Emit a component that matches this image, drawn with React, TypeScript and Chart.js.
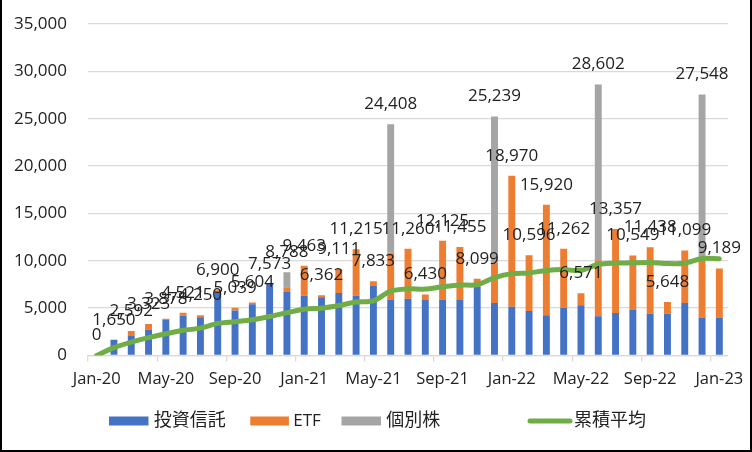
import React, { useEffect, useRef } from 'react';
import { Chart, registerables } from 'chart.js';

Chart.register(...registerables);

const months = [
  'Jan-20', 'Feb-20', 'Mar-20', 'Apr-20', 'May-20', 'Jun-20', 'Jul-20', 'Aug-20', 'Sep-20', 'Oct-20', 'Nov-20', 'Dec-20',
  'Jan-21', 'Feb-21', 'Mar-21', 'Apr-21', 'May-21', 'Jun-21', 'Jul-21', 'Aug-21', 'Sep-21', 'Oct-21', 'Nov-21', 'Dec-21',
  'Jan-22', 'Feb-22', 'Mar-22', 'Apr-22', 'May-22', 'Jun-22', 'Jul-22', 'Aug-22', 'Sep-22', 'Oct-22', 'Nov-22', 'Dec-22',
  'Jan-23',
];

// 投資信託
const investTrust = [
  0, 1650, 2050, 2750, 3800, 4200, 4050, 6700, 4750, 5400, 7573, 6700,
  6300, 6150, 6600, 6300, 7400, 5850, 6000, 5900, 5900, 5850, 7250, 5550,
  5150, 4700, 4250, 5050, 5300, 4150, 4500, 4800, 4400, 4400, 5550, 4000,
  4000,
];

// ETF
const etf = [
  0, 0, 542, 573, 78, 321, 200, 200, 289, 204, 0, 500,
  3163, 212, 2511, 4915, 433, 5000, 5260, 530, 6225, 5605, 849, 4250,
  13820, 5896, 11670, 6212, 1271, 5900, 8857, 5749, 7038, 1248, 5549, 6100,
  5189,
];

// 個別株
const stocks = [
  0, 0, 0, 0, 0, 0, 0, 0, 0, 0, 0, 1588,
  0, 0, 0, 0, 0, 13558, 0, 0, 0, 0, 0, 15439,
  0, 0, 0, 0, 0, 18552, 0, 0, 0, 0, 0, 17448,
  0,
];

// 累積平均
const cumulativeAvg = [
  0, 825, 1414, 1891, 2289, 2661, 2888, 3389, 3573, 3776, 4121, 4510,
  4891, 4996, 5270, 5642, 5771, 6806, 7041, 7010, 7254, 7445, 7473, 8213,
  8644, 8719, 8985, 9067, 8981, 9635, 9755, 9780, 9830, 9707, 9747, 10241,
  10213,
];

const yMin = 0;
const yMax = 35000;
const yStep = 5000;

const FONT = "'Open Sans', 'Noto Sans CJK JP', sans-serif";
const TEXT = '#222222';
const GRID = '#d9d9d9';
const BLUE = '#4472c4';
const ORANGE = '#ed7d31';
const GRAY = '#a5a5a5';
const GREEN = '#70ad47';

const totalLabelsPlugin = {
  id: 'totalLabels',
  afterDatasetsDraw(chart: any) {
    const { ctx } = chart;
    const x = chart.scales.x;
    const y = chart.scales.y;
    ctx.save();
    ctx.font = `17px ${FONT}`;
    ctx.fillStyle = TEXT;
    ctx.textAlign = 'center';
    ctx.textBaseline = 'middle';
    months.forEach((_, i) => {
      const total = investTrust[i] + etf[i] + stocks[i];
      ctx.fillText(total.toLocaleString('en-US'), x.getPixelForValue(i), y.getPixelForValue(total) - 20);
    });
    ctx.restore();
  },
};

const legendPlugin = {
  id: 'customLegend',
  afterDraw(chart: any) {
    const { ctx } = chart;
    const cy = 421;
    const items = [
      { ds: 0, kind: 'box', x: 107, w: 39.5, tx: 151.7, size: 18 },
      { ds: 1, kind: 'box', x: 248.3, w: 38.6, tx: 291.3, size: 17 },
      { ds: 2, kind: 'box', x: 339.5, w: 39.5, tx: 384.3, size: 18 },
      { ds: 3, kind: 'line', x: 526, w: 44, tx: 572, size: 18 },
    ];
    ctx.save();
    items.forEach((it) => {
      const ds = chart.data.datasets[it.ds];
      if (it.kind === 'box') {
        ctx.fillStyle = ds.backgroundColor;
        ctx.fillRect(it.x, cy - 4.5, it.w, 9);
      } else {
        ctx.strokeStyle = ds.borderColor;
        ctx.lineWidth = 5;
        ctx.lineCap = 'round';
        ctx.beginPath();
        ctx.moveTo(it.x + 2, cy);
        ctx.lineTo(it.x + it.w - 2, cy);
        ctx.stroke();
      }
      ctx.fillStyle = TEXT;
      ctx.font = `${it.size}px ${FONT}`;
      ctx.textAlign = 'left';
      ctx.textBaseline = 'middle';
      ctx.fillText(ds.label, it.tx, cy);
    });
    ctx.restore();
  },
};

export default function App() {
  const canvasRef = useRef<HTMLCanvasElement | null>(null);

  useEffect(() => {
    const canvas = canvasRef.current;
    if (!canvas) return;
    const chart = new Chart(canvas, {
      type: 'bar',
      data: {
        labels: months,
        datasets: [
          {
            type: 'bar',
            label: '投資信託',
            data: investTrust,
            backgroundColor: BLUE,
            stack: 'bars',
            order: 1,
            barPercentage: 0.4,
            categoryPercentage: 1.0,
          },
          {
            type: 'bar',
            label: 'ETF',
            data: etf,
            backgroundColor: ORANGE,
            stack: 'bars',
            order: 1,
            barPercentage: 0.4,
            categoryPercentage: 1.0,
          },
          {
            type: 'bar',
            label: '個別株',
            data: stocks,
            backgroundColor: GRAY,
            stack: 'bars',
            order: 1,
            barPercentage: 0.4,
            categoryPercentage: 1.0,
          },
          {
            type: 'line',
            label: '累積平均',
            data: cumulativeAvg,
            borderColor: GREEN,
            backgroundColor: GREEN,
            borderWidth: 5,
            pointRadius: 0,
            tension: 0.3,
            borderCapStyle: 'round',
            borderJoinStyle: 'round',
            stack: 'line',
            order: 0,
          },
        ] as any,
      },
      options: {
        responsive: false,
        animation: false,
        layout: { padding: { top: 24, right: 22, bottom: 55, left: 0 } },
        plugins: {
          legend: { display: false },
          tooltip: { enabled: false },
        },
        scales: {
          x: {
            stacked: true,
            offset: true,
            grid: {
              offset: true,
              drawOnChartArea: false,
              drawTicks: true,
              tickLength: 6,
              lineWidth: 1.3,
              color: (c: any) => (c.index % 4 === 0 ? GRID : 'rgba(0,0,0,0)'),
            },
            border: { display: true, color: GRID, width: 1.3 },
            ticks: {
              autoSkip: false,
              maxRotation: 0,
              minRotation: 0,
              padding: 6,
              color: TEXT,
              font: { size: 16.5, family: FONT, lineHeight: 1.45 },
              callback: (_v: any, i: number) => (i % 4 === 0 ? months[i] : ''),
            },
            afterFit: (s: any) => {
              s.height = 39.5;
            },
          },
          y: {
            stacked: true,
            min: yMin,
            max: yMax,
            ticks: {
              stepSize: yStep,
              padding: 0,
              color: TEXT,
              font: { size: 17, family: FONT },
              callback: (v: any) => Number(v).toLocaleString('en-US'),
            },
            grid: {
              color: GRID,
              lineWidth: 1.3,
              drawTicks: true,
              tickLength: 21,
              tickColor: 'rgba(0,0,0,0)',
            },
            border: { display: false },
            afterFit: (s: any) => {
              s.width = 86;
            },
          },
        } as any,
      },
      plugins: [totalLabelsPlugin, legendPlugin],
    });
    return () => chart.destroy();
  }, []);

  return (
    <div
      style={{
        position: 'fixed',
        left: 0,
        top: 0,
        width: 752,
        height: 452,
        boxSizing: 'border-box',
        borderLeft: '2px solid #000',
        borderRight: '2px solid #000',
        borderBottom: '2px solid #000',
        background: '#fff',
        overflow: 'hidden',
      }}
    >
      <canvas ref={canvasRef} width={748} height={450} style={{ display: 'block', width: 748, height: 450 }} />
    </div>
  );
}
